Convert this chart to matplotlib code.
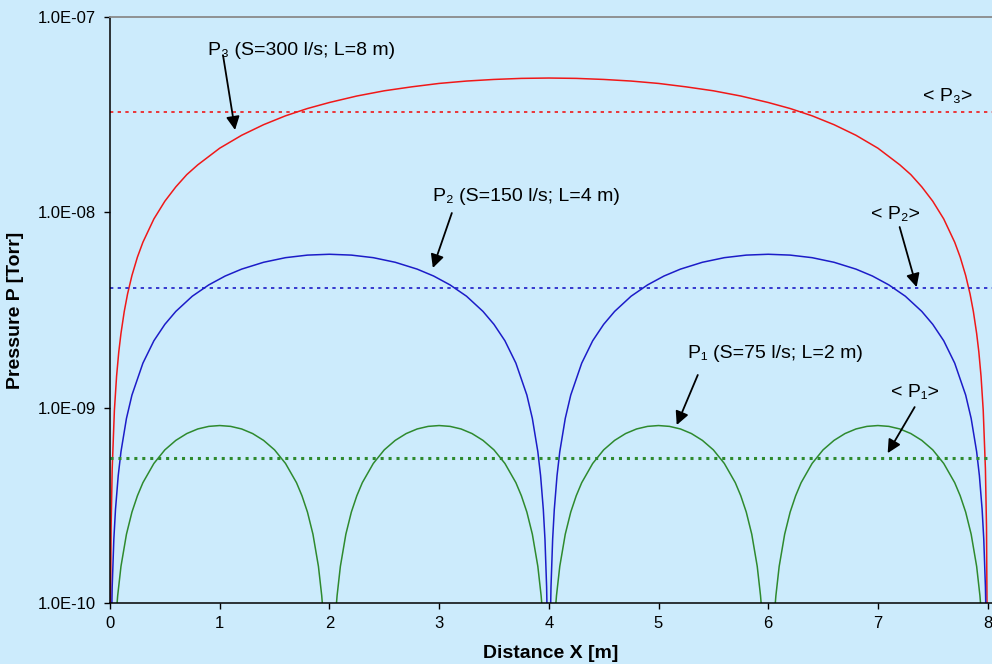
import matplotlib
matplotlib.use('Agg')
import matplotlib.pyplot as plt
from matplotlib.ticker import FuncFormatter, FixedLocator, NullLocator

plt.rcParams['font.family'] = ['Liberation Sans', 'DejaVu Sans']

# P3: S=300 l/s, L=8 m (one section)
x_p3 = [0.002, 0.01, 0.02, 0.04, 0.06, 0.08, 0.1, 0.13, 0.16, 0.2, 0.25, 0.3, 0.4, 0.5, 0.6, 0.7,
        0.8, 1.0, 1.2, 1.4, 1.6, 1.8, 2.0, 2.25, 2.5, 2.75, 3.0, 3.25, 3.5, 3.75, 4.0,
        4.25, 4.5, 4.75, 5.0, 5.25, 5.5, 5.75, 6.0, 6.2, 6.4, 6.6, 6.8, 7.0, 7.2, 7.3, 7.4,
        7.5, 7.6, 7.7, 7.75, 7.8, 7.84, 7.87, 7.9, 7.92, 7.94, 7.96, 7.98, 7.99, 7.998]
p3 = [4.87e-11, 2.43e-10, 4.86e-10, 9.69e-10, 1.45e-9, 1.93e-9, 2.40e-9, 3.11e-9, 3.82e-9, 4.75e-9,
      5.90e-9, 7.03e-9, 9.25e-9, 1.14e-8, 1.35e-8, 1.56e-8, 1.75e-8, 2.13e-8, 2.48e-8, 2.81e-8,
      3.12e-8, 3.40e-8, 3.65e-8, 3.94e-8, 4.19e-8, 4.39e-8, 4.57e-8, 4.70e-8, 4.79e-8, 4.85e-8, 4.87e-8,
      4.85e-8, 4.79e-8, 4.70e-8, 4.57e-8, 4.39e-8, 4.19e-8, 3.94e-8, 3.65e-8, 3.40e-8, 3.12e-8,
      2.81e-8, 2.48e-8, 2.13e-8, 1.75e-8, 1.56e-8, 1.35e-8, 1.14e-8, 9.25e-9, 7.03e-9, 5.90e-9,
      4.75e-9, 3.82e-9, 3.11e-9, 2.40e-9, 1.93e-9, 1.45e-9, 9.69e-10, 4.86e-10, 2.43e-10, 4.87e-11]

# P2: S=150 l/s, L=4 m (two sections)
x_p2 = [0.005, 0.01, 0.02, 0.035, 0.05, 0.075, 0.1, 0.15, 0.2, 0.3, 0.4, 0.5, 0.6, 0.75, 0.9,
        1.05, 1.2, 1.4, 1.6, 1.8, 2.0, 2.2, 2.4, 2.6, 2.8, 2.95, 3.1, 3.25, 3.4, 3.5, 3.6, 3.7,
        3.8, 3.85, 3.9, 3.925, 3.95, 3.965, 3.98, 3.99, 3.995,
        4.005, 4.01, 4.02, 4.035, 4.05, 4.075, 4.1, 4.15, 4.2, 4.3, 4.4, 4.5, 4.6, 4.75, 4.9,
        5.05, 5.2, 5.4, 5.6, 5.8, 6.0, 6.2, 6.4, 6.6, 6.8, 6.95, 7.1, 7.25, 7.4, 7.5, 7.6, 7.7,
        7.8, 7.85, 7.9, 7.925, 7.95, 7.965, 7.98, 7.99, 7.995]
p2 = [3.05e-11, 6.08e-11, 1.21e-10, 2.12e-10, 3.01e-10, 4.49e-10, 5.95e-10, 8.81e-10, 1.16e-9,
      1.69e-9, 2.20e-9, 2.67e-9, 3.11e-9, 3.72e-9, 4.25e-9, 4.72e-9, 5.12e-9, 5.55e-9, 5.86e-9,
      6.04e-9, 6.10e-9, 6.04e-9, 5.86e-9, 5.55e-9, 5.12e-9, 4.72e-9, 4.25e-9, 3.72e-9, 3.11e-9,
      2.67e-9, 2.20e-9, 1.69e-9, 1.16e-9, 8.81e-10, 5.95e-10, 4.49e-10, 3.01e-10, 2.12e-10,
      1.21e-10, 6.08e-11, 3.05e-11,
      3.05e-11, 6.08e-11, 1.21e-10, 2.12e-10, 3.01e-10, 4.49e-10, 5.95e-10, 8.81e-10, 1.16e-9,
      1.69e-9, 2.20e-9, 2.67e-9, 3.11e-9, 3.72e-9, 4.25e-9, 4.72e-9, 5.12e-9, 5.55e-9, 5.86e-9,
      6.04e-9, 6.10e-9, 6.04e-9, 5.86e-9, 5.55e-9, 5.12e-9, 4.72e-9, 4.25e-9, 3.72e-9, 3.11e-9,
      2.67e-9, 2.20e-9, 1.69e-9, 1.16e-9, 8.81e-10, 5.95e-10, 4.49e-10, 3.01e-10, 2.12e-10,
      1.21e-10, 6.08e-11, 3.05e-11]

# P1: S=75 l/s, L=2 m (four sections)
x_p1 = [0.03, 0.05, 0.07, 0.1, 0.15, 0.2, 0.25, 0.3, 0.4, 0.5, 0.6, 0.7, 0.8, 0.9, 1.0,
        1.1, 1.2, 1.3, 1.4, 1.5, 1.6, 1.7, 1.75, 1.8, 1.85, 1.9, 1.93, 1.95, 1.97,
        2.03, 2.05, 2.07, 2.1, 2.15, 2.2, 2.25, 2.3, 2.4, 2.5, 2.6, 2.7, 2.8, 2.9, 3.0,
        3.1, 3.2, 3.3, 3.4, 3.5, 3.6, 3.7, 3.75, 3.8, 3.85, 3.9, 3.93, 3.95, 3.97,
        4.03, 4.05, 4.07, 4.1, 4.15, 4.2, 4.25, 4.3, 4.4, 4.5, 4.6, 4.7, 4.8, 4.9, 5.0,
        5.1, 5.2, 5.3, 5.4, 5.5, 5.6, 5.7, 5.75, 5.8, 5.85, 5.9, 5.93, 5.95, 5.97,
        6.03, 6.05, 6.07, 6.1, 6.15, 6.2, 6.25, 6.3, 6.4, 6.5, 6.6, 6.7, 6.8, 6.9, 7.0,
        7.1, 7.2, 7.3, 7.4, 7.5, 7.6, 7.7, 7.75, 7.8, 7.85, 7.9, 7.93, 7.95, 7.97]
p1 = [4.79e-11, 7.9e-11, 1.09e-10, 1.54e-10, 2.25e-10, 2.92e-10, 3.54e-10, 4.13e-10, 5.18e-10,
      6.08e-10, 6.80e-10, 7.37e-10, 7.78e-10, 8.02e-10, 8.10e-10, 8.02e-10, 7.78e-10, 7.37e-10,
      6.80e-10, 6.08e-10, 5.18e-10, 4.13e-10, 3.54e-10, 2.92e-10, 2.25e-10, 1.54e-10, 1.09e-10,
      7.9e-11, 4.79e-11,
      4.79e-11, 7.9e-11, 1.09e-10, 1.54e-10, 2.25e-10, 2.92e-10, 3.54e-10, 4.13e-10, 5.18e-10,
      6.08e-10, 6.80e-10, 7.37e-10, 7.78e-10, 8.02e-10, 8.10e-10, 8.02e-10, 7.78e-10, 7.37e-10,
      6.80e-10, 6.08e-10, 5.18e-10, 4.13e-10, 3.54e-10, 2.92e-10, 2.25e-10, 1.54e-10, 1.09e-10,
      7.9e-11, 4.79e-11,
      4.79e-11, 7.9e-11, 1.09e-10, 1.54e-10, 2.25e-10, 2.92e-10, 3.54e-10, 4.13e-10, 5.18e-10,
      6.08e-10, 6.80e-10, 7.37e-10, 7.78e-10, 8.02e-10, 8.10e-10, 8.02e-10, 7.78e-10, 7.37e-10,
      6.80e-10, 6.08e-10, 5.18e-10, 4.13e-10, 3.54e-10, 2.92e-10, 2.25e-10, 1.54e-10, 1.09e-10,
      7.9e-11, 4.79e-11,
      4.79e-11, 7.9e-11, 1.09e-10, 1.54e-10, 2.25e-10, 2.92e-10, 3.54e-10, 4.13e-10, 5.18e-10,
      6.08e-10, 6.80e-10, 7.37e-10, 7.78e-10, 8.02e-10, 8.10e-10, 8.02e-10, 7.78e-10, 7.37e-10,
      6.80e-10, 6.08e-10, 5.18e-10, 4.13e-10, 3.54e-10, 2.92e-10, 2.25e-10, 1.54e-10, 1.09e-10,
      7.9e-11, 4.79e-11]

# average pressures
avg_p3 = 3.27e-8
avg_p2 = 4.1e-9
avg_p1 = 5.5e-10

x_ticks = [0, 1, 2, 3, 4, 5, 6, 7, 8]
y_ticks = [1e-10, 1e-9, 1e-8, 1e-7]

bg = '#ccebfc'
red = '#f01818'
blue = '#1c1cc8'
green = '#2e8a2e'

fig = plt.figure(figsize=(9.92, 6.64), dpi=100, facecolor=bg)
ax = fig.add_axes([110/992, 61/664, 882/992, 586/664])
ax.set_facecolor(bg)

ax.plot(x_p3, p3, color=red, lw=1.1)
ax.plot(x_p2, p2, color=blue, lw=1.1)
ax.plot(x_p1, p1, color=green, lw=1.1)

ax.axhline(avg_p3, color=red, lw=1.2, ls=(0, (2, 2.6)))
ax.axhline(avg_p2, color=blue, lw=1.2, ls=(0, (2, 2.6)))
ax.axhline(avg_p1, color=green, lw=2.2, ls=(0, (1, 1.6)))

ax.set_yscale('log')
ax.set_xlim(0, 8.04)
ax.set_ylim(1e-10, 1e-7)

ax.xaxis.set_major_locator(FixedLocator(x_ticks))
ax.yaxis.set_major_locator(FixedLocator(y_ticks))
ax.yaxis.set_minor_locator(NullLocator())
ax.yaxis.set_major_formatter(FuncFormatter(lambda v, p: '%.1E' % v))
ax.tick_params(axis='x', direction='out', length=4, width=1, labelsize=12, pad=5)
ax.tick_params(axis='y', direction='out', length=4, width=1, labelsize=12, pad=6)

for s in ['left', 'bottom']:
    ax.spines[s].set_color('black')
    ax.spines[s].set_linewidth(1.1)
ax.spines['top'].set_color('#8a8a8a')
ax.spines['top'].set_linewidth(1.3)
ax.spines['right'].set_visible(False)

ax.set_xlabel('Distance X [m]', fontsize=14, fontweight='bold')
ax.xaxis.set_label_coords(0.5, -0.072)
ax.set_ylabel('Pressure P [Torr]', fontsize=14, fontweight='bold')
ax.yaxis.set_label_coords(-0.097, 0.5)

# curve labels and arrows
lbl = dict(fontsize=14, ha='center', va='center')
ax.text(1.75, 6.7e-8, 'P\u2083 (S=300 l/s; L=8 m)', **lbl)
ax.text(3.80, 1.21e-8, 'P\u2082 (S=150 l/s; L=4 m)', **lbl)
ax.text(6.07, 1.9e-9, 'P\u2081 (S=75 l/s; L=2 m)', **lbl)
ax.text(7.64, 3.94e-8, '< P\u2083>', **lbl)
ax.text(7.16, 9.7e-9, '< P\u2082>', **lbl)
ax.text(7.34, 1.2e-9, '< P\u2081>', **lbl)

arrow = dict(arrowstyle='-|>', color='black', lw=1.3, mutation_scale=20, shrinkA=0, shrinkB=0)
ax.annotate('', xy=(1.14, 2.64e-8), xytext=(1.03, 6.38e-8), arrowprops=arrow)
ax.annotate('', xy=(2.943, 5.19e-9), xytext=(3.116, 9.92e-9), arrowprops=arrow)
ax.annotate('', xy=(5.166, 8.15e-10), xytext=(5.358, 1.47e-9), arrowprops=arrow)
ax.annotate('', xy=(7.353, 4.14e-9), xytext=(7.198, 8.41e-9), arrowprops=arrow)
ax.annotate('', xy=(7.089, 5.85e-10), xytext=(7.335, 1.007e-9), arrowprops=arrow)

fig.savefig('out.png', dpi=100, facecolor=bg)
